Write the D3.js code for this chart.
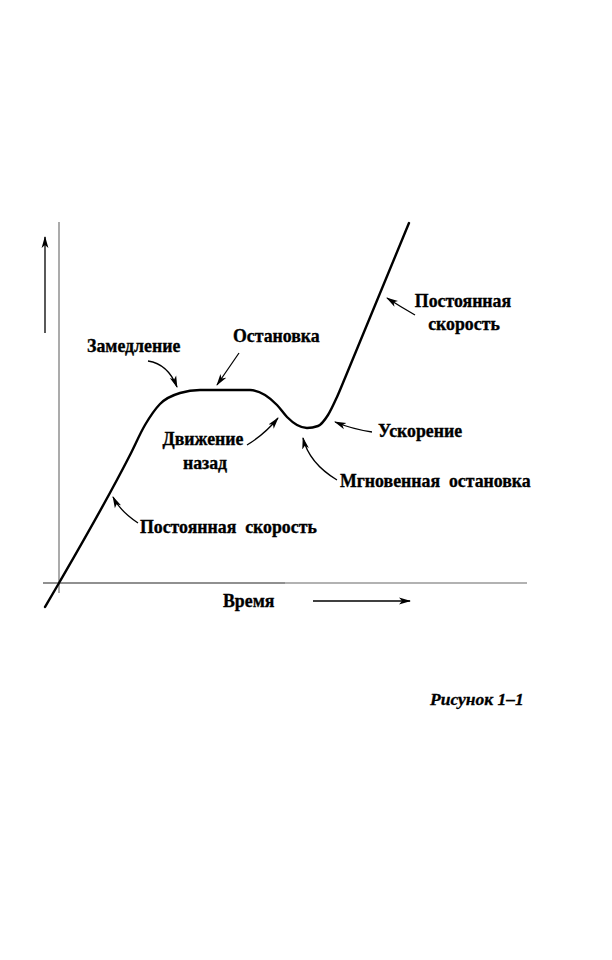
<!DOCTYPE html>
<html>
<head>
<meta charset="utf-8">
<script src="https://cdn.jsdelivr.net/npm/d3@7/dist/d3.min.js"></script>
<style>
  html, body { margin: 0; padding: 0; background: #fff; }
</style>
</head>
<body>
<svg id="chart" width="612" height="960"></svg>
<script>
// Position vs. time curve (time units, position units)
const curveTime = [-1.4, 0, 7.1, 8.6, 10.1, 12.1, 14.1, 19.1, 20.6, 21.8, 22.8, 23.8, 24.8, 25.9, 26.9, 27.8, 28.6, 35.0];
const curvePos  = [-2.4, 0, 12.8, 15.8, 17.9, 19.0, 19.3, 19.3, 18.8, 17.8, 16.6, 15.8, 15.5, 15.7, 16.8, 18.6, 20.5, 36.0];

// Annotation labels
const labelText   = ["Замедление", "Остановка", "Постоянная", "скорость", "Движение", "назад", "Ускорение", "Мгновенная  остановка", "Постоянная  скорость", "Время"];
const labelTime   = [2.8, 17.4, 40.4, 40.5, 14.4, 14.6, 31.9, 28.1, 8.1, 16.4];
const labelPos    = [23.1, 24.1, 27.6, 25.3, 13.8, 11.4, 14.6, 9.6, 5.0, -2.4];
const labelAnchor = ["start", "start", "middle", "middle", "middle", "middle", "start", "start", "start", "start"];

// Annotation arrows: start, control, end (time, position)
const arrowStart = [[8.9, 22.2], [18.0, 23.0], [35.6, 26.8], [18.8, 13.8], [31.3, 15.1], [27.8, 10.3], [7.9, 6.0], [25.4, -1.8], [-1.4, 25.0]];
const arrowCtrl  = [[10.9, 21.9], [16.9, 21.4], [34.2, 27.6], [20.6, 14.9], [29.3, 15.4], [25.0, 12.0], [6.1, 7.2], [30.2, -1.8], [-1.4, 29.8]];
const arrowEnd   = [[11.8, 19.6], [15.8, 19.8], [32.8, 28.5], [21.9, 16.5], [27.6, 16.1], [24.4, 14.5], [5.4, 8.6], [35.1, -1.8], [-1.4, 34.6]];

// Axis extents
const xAxisRange = [-1.6, 46.8];
const yAxisRange = [-1.0, 36.1];

const caption = "Рисунок 1–1";

const svg = d3.select("#chart");
const x = d3.scaleLinear().domain([0, 40]).range([59, 459]);
const y = d3.scaleLinear().domain([0, 40]).range([583, 183]);

const defs = svg.append("defs");
defs.append("marker")
  .attr("id", "head")
  .attr("viewBox", "0 0 12 8")
  .attr("refX", 11).attr("refY", 4)
  .attr("markerWidth", 12).attr("markerHeight", 8)
  .attr("markerUnits", "userSpaceOnUse")
  .attr("orient", "auto")
  .append("path")
  .attr("d", "M0,0.6 L12,4 L0,7.4 L3,4 Z")
  .attr("fill", "#000");

// Axes
svg.append("line")
  .attr("x1", x(xAxisRange[0])).attr("x2", x(22.6))
  .attr("y1", y(0)).attr("y2", y(0))
  .attr("stroke", "#222").attr("stroke-width", 1.1);
svg.append("line")
  .attr("x1", x(22.6)).attr("x2", x(xAxisRange[1]))
  .attr("y1", y(0)).attr("y2", y(0))
  .attr("stroke", "#666").attr("stroke-width", 1.1);
svg.append("line")
  .attr("x1", x(0)).attr("x2", x(0))
  .attr("y1", y(yAxisRange[0])).attr("y2", y(yAxisRange[1]))
  .attr("stroke", "#666").attr("stroke-width", 1.1);

// Curve
const pts = curveTime.map((t, i) => [t, curvePos[i]]);
const line = d3.line().x(d => x(d[0])).y(d => y(d[1])).curve(d3.curveMonotoneX);
svg.append("path")
  .attr("d", line(pts))
  .attr("fill", "none")
  .attr("stroke", "#000")
  .attr("stroke-width", 2.4)
  .attr("stroke-linecap", "round");

// Arrows
arrowStart.forEach((s, i) => {
  const c = arrowCtrl[i], e = arrowEnd[i];
  const p = d3.path();
  p.moveTo(x(s[0]), y(s[1]));
  p.quadraticCurveTo(x(c[0]), y(c[1]), x(e[0]), y(e[1]));
  svg.append("path")
    .attr("d", p.toString())
    .attr("fill", "none")
    .attr("stroke", "#000")
    .attr("stroke-width", 1.3)
    .attr("marker-end", "url(#head)");
});

// Labels
svg.selectAll("text.lbl")
  .data(labelText)
  .join("text")
  .attr("class", "lbl")
  .attr("x", (d, i) => x(labelTime[i]))
  .attr("y", (d, i) => y(labelPos[i]))
  .attr("text-anchor", (d, i) => labelAnchor[i])
  .attr("xml:space", "preserve")
  .attr("font-family", "Liberation Serif")
  .attr("font-weight", "bold")
  .attr("font-size", 17.8)
  .attr("fill", "#000")
  .attr("stroke", "#000")
  .attr("stroke-width", 0.35)
  .text(d => d);

svg.append("text")
  .attr("x", 430).attr("y", 705)
  .attr("font-family", "Liberation Serif")
  .attr("font-weight", "bold")
  .attr("font-style", "italic")
  .attr("font-size", 17.5)
  .attr("fill", "#000")
  .attr("stroke", "#000")
  .attr("stroke-width", 0.3)
  .text(caption);
</script>
</body>
</html>
